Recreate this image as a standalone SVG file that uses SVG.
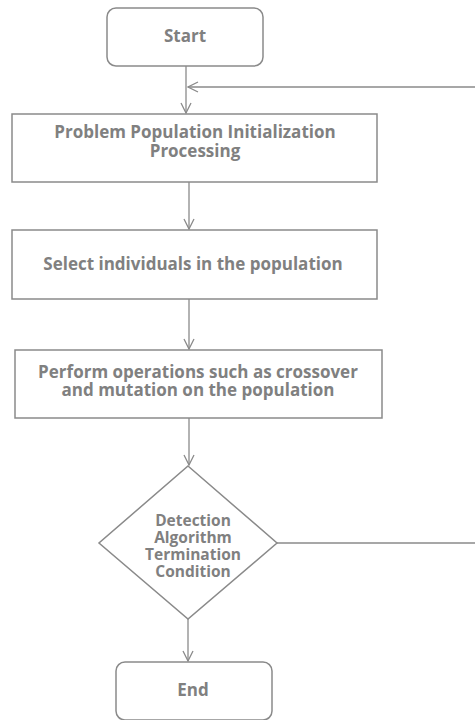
<svg xmlns="http://www.w3.org/2000/svg" width="475" height="720" viewBox="0 0 475 720">
<style>
.box{fill:#fff;stroke:#8a8a8a;stroke-width:1.5}
.t{font-family:"Open Sans","Noto Sans","Liberation Sans",sans-serif;font-weight:700;font-size:17px;fill:#808080;text-anchor:middle}
.d{font-size:15.5px}
.c{fill:none;stroke:#8a8a8a;stroke-width:1.3}
</style>
<defs>
<marker id="arr" viewBox="0 0 12 12" refX="11" refY="6" markerWidth="12" markerHeight="12" markerUnits="userSpaceOnUse" orient="auto">
<path d="M1,1 L11,6 L1,11" fill="none" stroke="#8a8a8a" stroke-width="1.3"/>
</marker>
</defs>
<g id="start"><rect class="box" x="107" y="8" width="156" height="58" rx="9"/><text class="t" x="185" y="42">Start</text></g>
<g id="init"><rect class="box" x="12" y="114" width="365" height="68"/><text class="t" x="195" y="138">Problem Population Initialization</text><text class="t" x="195" y="157">Processing</text></g>
<g id="select"><rect class="box" x="12" y="230" width="365" height="69"/><text class="t" x="193" y="270">Select individuals in the population</text></g>
<g id="ops"><rect class="box" x="15" y="350" width="367" height="68"/><text class="t" x="198" y="378">Perform operations such as crossover</text><text class="t" x="198" y="396">and mutation on the population</text></g>
<g id="cond"><polygon class="box" points="188,466 277,543 188,619 99,543"/><text class="t d" x="193" y="525.5">Detection</text><text class="t d" x="193" y="542.5">Algorithm</text><text class="t d" x="193" y="560">Termination</text><text class="t d" x="193" y="577">Condition</text></g>
<g id="end"><rect class="box" x="116" y="662" width="156" height="58" rx="9"/><text class="t" x="193" y="696">End</text></g>
<g id="connectors">
<line class="c" x1="186" y1="66" x2="186" y2="113" marker-end="url(#arr)"/>
<line class="c" x1="189" y1="182" x2="189" y2="229" marker-end="url(#arr)"/>
<line class="c" x1="189" y1="299" x2="189" y2="349" marker-end="url(#arr)"/>
<line class="c" x1="189" y1="418" x2="189" y2="465" marker-end="url(#arr)"/>
<line class="c" x1="188" y1="619" x2="188" y2="661" marker-end="url(#arr)"/>
<path class="c" d="M277,543 H482 V87 H188" marker-end="url(#arr)"/>
</g>
</svg>
